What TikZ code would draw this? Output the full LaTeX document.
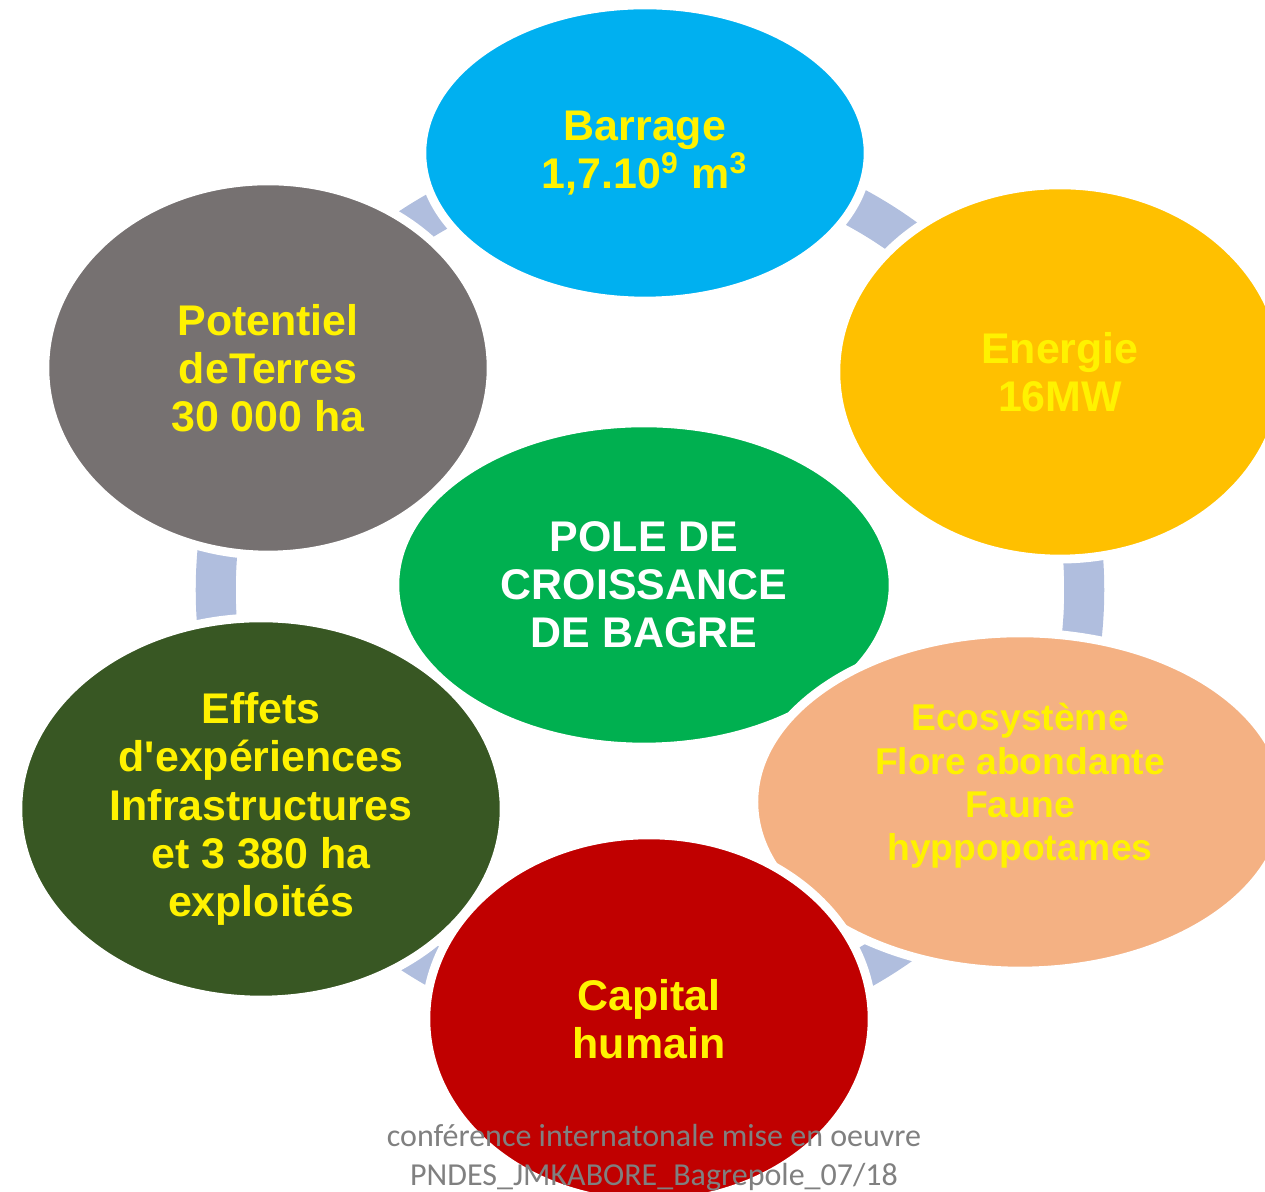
\documentclass[tikz,border=0pt]{standalone}
\usepackage{fontspec}
\setmainfont{Liberation Sans}
\newfontfamily\notefont{Carlito}
\usetikzlibrary{shapes.geometric}
\definecolor{ringblue}{RGB}{176,190,222}
\definecolor{barrageblue}{RGB}{0,176,240}
\definecolor{energieorange}{RGB}{255,192,0}
\definecolor{terresgray}{RGB}{118,113,113}
\definecolor{polegreen}{RGB}{0,176,80}
\definecolor{ecosalmon}{RGB}{244,177,131}
\definecolor{effetsgreen}{RGB}{56,87,35}
\definecolor{capitalred}{RGB}{192,0,0}
\definecolor{notegray}{RGB}{128,128,128}
\tikzset{
  bubble/.style={ellipse, draw=white, line width=2.5pt, inner sep=0pt, align=center,
    text=yellow, font=\bfseries\fontsize{12.2}{13.7}\selectfont},
  ring/.style={ringblue, line width=0.4cm}
}
\begin{document}
\begin{tikzpicture}[x=0.01cm,y=-0.01cm]
\useasboundingbox (0,0) rectangle (1265,1192);
\clip (0,0) rectangle (1265,1192);
\draw [ring] (650,590) circle [radius=4.34cm]; % cycle ring
\node [bubble, fill=polegreen, text=white, minimum width=4.98cm, minimum height=3.24cm] (pole) at (644,585) {POLE DE\\CROISSANCE\\DE BAGRE};
\node [bubble, fill=barrageblue, minimum width=4.46cm, minimum height=2.96cm] (barrage) at (645,153) {Barrage\\1,7.10\textsuperscript{9} m\textsuperscript{3}};
\node [bubble, fill=energieorange, minimum width=4.48cm, minimum height=3.74cm] (energie) at (1060,372) {Energie\\16MW};
\node [bubble, fill=terresgray, minimum width=4.46cm, minimum height=3.74cm] (potentiel) at (268,368) {Potentiel\\deTerres\\30 000 ha};
\node [bubble, fill=effetsgreen, minimum width=4.86cm, minimum height=3.82cm] (effets) at (261,809) {Effets\\d\textquotesingle expériences\\Infrastructures\\et 3 380 ha\\exploités};
\node [bubble, fill=ecosalmon, minimum width=5.32cm, minimum height=3.38cm] (ecosys) at (1020,802) {};
\node [text=yellow, font=\bfseries\fontsize{10.6}{12.3}\selectfont, align=center] (ecotext) at (1020,786) {Ecosystème\\Flore abondante\\Faune\\hyppopotames};
\node [bubble, fill=capitalred, minimum width=4.46cm, minimum height=3.68cm] (capital) at (649,1019) {Capital\\humain};
\node [text=notegray, font=\notefont\fontsize{9.1}{11.1}\selectfont, align=center] (note) at (654,1158) {conférence internatonale mise en oeuvre\\PNDES\_JMKABORE\_Bagrepole\_07/18};
\end{tikzpicture}
\end{document}
